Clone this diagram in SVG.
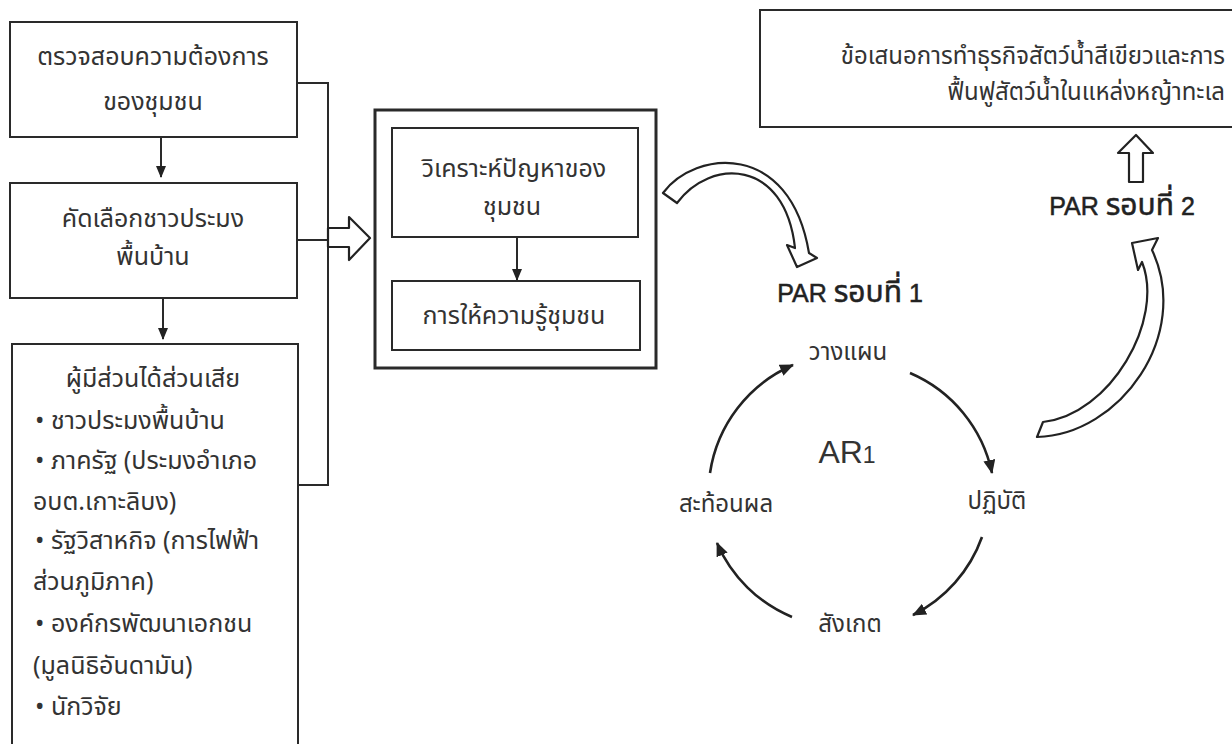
<svg xmlns="http://www.w3.org/2000/svg" width="1232" height="744" viewBox="0 0 1232 744">
<defs>
<style>
.box{fill:none;stroke:#2a2a2a;stroke-width:2}
.thick{fill:none;stroke:#2a2a2a;stroke-width:3}
.ln{fill:none;stroke:#2a2a2a;stroke-width:2}
.cyc{fill:none;stroke:#222;stroke-width:2.6}
.hollow{fill:#fff;stroke:#222;stroke-width:2.2;stroke-linejoin:round}
.t{font-family:"Noto Sans Thai","Noto Sans Thai UI","Noto Sans","DejaVu Sans",sans-serif;font-size:25px;fill:#333}
.cy{font-size:24px}
.sm{font-size:24px}
.c{text-anchor:middle}
.r{text-anchor:end}
.par{font-family:"Liberation Sans","Noto Sans Thai","Noto Sans",sans-serif;font-size:25px;fill:#222;stroke:#222;stroke-width:0.5;text-anchor:middle}
.th{font-family:"Noto Sans Thai","Noto Sans",sans-serif;font-size:30px}
.ar{font-family:"Liberation Sans","Noto Sans",sans-serif;font-size:32px;fill:#333;text-anchor:middle}
</style>
<marker id="ah" viewBox="0 0 12 10" refX="11" refY="5" markerWidth="12" markerHeight="10" markerUnits="userSpaceOnUse" orient="auto">
<path d="M0,0 L12,5 L0,10 Z" fill="#222"/>
</marker>
<marker id="ahc" viewBox="0 0 14 12" refX="13" refY="6" markerWidth="14" markerHeight="12" markerUnits="userSpaceOnUse" orient="auto">
<path d="M0,0 L14,6 L0,12 Z" fill="#222"/>
</marker>
</defs>
<rect width="1232" height="744" fill="#fff"/>

<g id="connectors">
<path class="ln" d="M297,83 H328 V485 H298"/>
<path class="ln" d="M297,240 H328"/>
<path class="ln" d="M161,137 V177" marker-end="url(#ah)"/>
<path class="ln" d="M163,298 V339" marker-end="url(#ah)"/>
<path class="ln" d="M517,237 V280" marker-end="url(#ah)"/>
<polygon class="hollow" points="328,228 349,228 349,217 370,238 349,260 349,247 328,247"/>
<path class="hollow" d="M663,193 C695,150 790,140 809,253 L817,258 L797,267 L787,245 L795,248 C785,158 710,158 677,203 Z"/>
<path class="hollow" d="M1037,437 C1120,435 1192,335 1152,250 L1158,238 L1132,243 L1138,270 L1142,262 C1165,320 1110,415 1043,422 Z"/>
<polygon class="hollow" points="1136,135 1153,153 1143,153 1143,182 1129,182 1129,153 1118,153"/>
<path class="cyc" d="M710,473 A140,140 0 0 1 793,365" marker-end="url(#ahc)"/>
<path class="cyc" d="M910,373 A140,140 0 0 1 992,473" marker-end="url(#ahc)"/>
<path class="cyc" d="M982,537 A140,140 0 0 1 913,615" marker-end="url(#ahc)"/>
<path class="cyc" d="M792,617 A140,140 0 0 1 717,543" marker-end="url(#ahc)"/>
</g>

<g id="n-check">
<rect class="box" x="10" y="22" width="287" height="115"/>
<text class="t c" x="153" y="65">ตรวจสอบความต้องการ</text>
<text class="t c" x="153" y="110">ของชุมชน</text>
</g>

<g id="n-select">
<rect class="box" x="10" y="183" width="287" height="115"/>
<text class="t c" x="153" y="227">คัดเลือกชาวประมง</text>
<text class="t c" x="153" y="265">พื้นบ้าน</text>
</g>

<g id="n-stakeholders">
<rect class="box" x="12" y="344" width="286" height="420"/>
<text class="t c" x="153" y="387">ผู้มีส่วนได้ส่วนเสีย</text>
<text class="t" x="35" y="429">• ชาวประมงพื้นบ้าน</text>
<text class="t" x="35" y="469">• ภาครัฐ (ประมงอำเภอ</text>
<text class="t" x="33" y="510">อบต.เกาะลิบง)</text>
<text class="t" x="35" y="549">• รัฐวิสาหกิจ (การไฟฟ้า</text>
<text class="t" x="33" y="590">ส่วนภูมิภาค)</text>
<text class="t" x="35" y="632">• องค์กรพัฒนาเอกชน</text>
<text class="t" x="33" y="674">(มูลนิธิอันดามัน)</text>
<text class="t" x="35" y="715">• นักวิจัย</text>
</g>

<g id="n-community">
<rect class="thick" x="375" y="110" width="281" height="258"/>
</g>

<g id="n-analyse">
<rect class="box" x="392" y="128" width="246" height="109"/>
<text class="t c" x="514" y="177">วิเคราะห์ปัญหาของ</text>
<text class="t c" x="512" y="215">ชุมชน</text>
</g>

<g id="n-educate">
<rect class="box" x="392" y="281" width="248" height="69"/>
<text class="t c" x="514" y="324">การให้ความรู้ชุมชน</text>
</g>

<g id="n-proposal">
<rect class="box" x="760" y="10" width="480" height="117"/>
<text class="t sm r" x="1225" y="64">ข้อเสนอการทำธุรกิจสัตว์น้ำสีเขียวและการ</text>
<text class="t sm r" x="1225" y="100">ฟื้นฟูสัตว์น้ำในแหล่งหญ้าทะเล</text>
</g>

<g id="n-par1">
<text class="par" x="850" y="302">PAR <tspan class="th">รอบที่</tspan> 1</text>
</g>
<g id="n-par2">
<text class="par" x="1122" y="215">PAR <tspan class="th">รอบที่</tspan> 2</text>
</g>

<g id="n-ar1">
<text class="ar" x="847" y="463">AR<tspan font-size="23">1</tspan></text>
</g>
<g id="n-plan"><text class="t cy c" x="848" y="360">วางแผน</text></g>
<g id="n-act"><text class="t cy c" x="997" y="509">ปฏิบัติ</text></g>
<g id="n-observe"><text class="t cy c" x="850" y="632">สังเกต</text></g>
<g id="n-reflect"><text class="t cy c" x="726" y="512">สะท้อนผล</text></g>
</svg>
